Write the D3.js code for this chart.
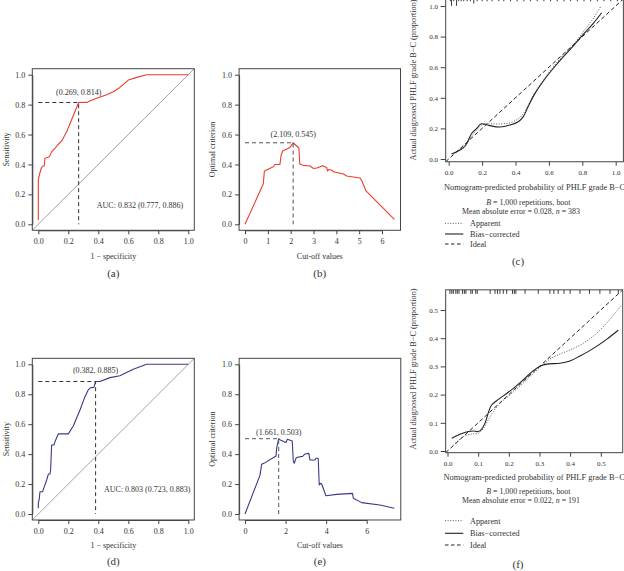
<!DOCTYPE html>
<html><head><meta charset="utf-8">
<script src="https://cdn.jsdelivr.net/npm/d3@7"></script>
<style>
body{margin:0;background:#fff}
svg{display:block}
text{font-family:"Liberation Serif","Times New Roman",serif;fill:#333}
</style>
</head><body>
<svg id="fig" width="624" height="571"></svg>
<script>
// ---------------- DATA ----------------
// (a) ROC, training
const rocA_fpr = [0,0,0.007,0.016,0.022,0.033,0.04,0.044,0.056,0.073,0.082,0.089,0.111,0.129,0.156,0.189,0.269,0.327,0.344,0.389,0.456,0.5,0.544,0.6,0.656,0.722,1];
const rocA_tpr = [0.029,0.296,0.33,0.363,0.38,0.39,0.39,0.441,0.445,0.452,0.468,0.486,0.508,0.53,0.557,0.619,0.814,0.815,0.824,0.842,0.866,0.886,0.915,0.964,0.982,1,1];
const optA = [0.269, 0.814];
const aucA = "AUC: 0.832 (0.777, 0.886)";
// (b) optimal criterion vs cut-off, training
const critB_cut = [0,0.80,0.85,1.24,1.31,1.53,1.58,1.65,1.97,2.109,2.29,2.36,2.40,2.55,2.85,2.99,3.15,3.40,3.58,3.61,3.66,3.77,3.91,4.31,4.45,5.04,5.14,5.21,5.30,6.54];
const critB_val = [0,0.27,0.357,0.385,0.40,0.40,0.46,0.49,0.514,0.545,0.52,0.51,0.403,0.394,0.39,0.374,0.376,0.392,0.38,0.356,0.366,0.363,0.35,0.336,0.323,0.31,0.283,0.256,0.223,0.033];
const optB = [2.109, 0.545];
// (d) ROC, validation
const rocD_fpr = [0,0,0.007,0.011,0.029,0.04,0.056,0.067,0.078,0.082,0.089,0.104,0.111,0.133,0.2,0.233,0.278,0.311,0.333,0.349,0.371,0.378,0.382,0.411,0.478,0.544,0.578,0.633,0.722,1];
const rocD_tpr = [0.038,0.071,0.105,0.149,0.149,0.183,0.227,0.267,0.267,0.294,0.461,0.461,0.483,0.535,0.535,0.588,0.695,0.784,0.829,0.844,0.846,0.873,0.885,0.885,0.911,0.924,0.94,0.967,1,1];
const optD = [0.382, 0.885];
const aucD = "AUC: 0.803 (0.723, 0.883)";
// (e) optimal criterion vs cut-off, validation
const critE_cut = [0,0.74,0.82,0.99,1.53,1.56,1.661,1.74,2.02,2.09,2.33,2.38,2.43,2.51,2.58,2.84,2.96,3.15,3.2,3.45,3.5,3.61,3.66,3.73,3.78,3.99,4.52,5.3,5.34,5.75,6.65,7.36];
const critE_val = [0,0.26,0.332,0.343,0.388,0.439,0.503,0.495,0.477,0.499,0.488,0.354,0.339,0.372,0.379,0.385,0.401,0.405,0.361,0.361,0.372,0.372,0.194,0.205,0.2,0.122,0.131,0.138,0.105,0.076,0.06,0.038];
const optE = [1.661, 0.503];
// (c) calibration, training
const calC_app_x = [0.018,0.068,0.098,0.128,0.168,0.198,0.248,0.307,0.367,0.427,0.467,0.507,0.567,0.627,0.687,0.746,0.806,0.866,0.91];
const calC_app_y = [0.033,0.058,0.082,0.135,0.19,0.222,0.229,0.229,0.237,0.272,0.331,0.418,0.516,0.603,0.68,0.745,0.832,0.919,0.996];
const calC_bc_x = [0.018,0.068,0.098,0.118,0.138,0.168,0.192,0.218,0.248,0.307,0.367,0.417,0.447,0.477,0.517,0.567,0.627,0.687,0.746,0.806,0.866,0.916];
const calC_bc_y = [0.033,0.059,0.085,0.124,0.168,0.2,0.229,0.227,0.218,0.209,0.222,0.244,0.277,0.346,0.429,0.51,0.593,0.669,0.739,0.815,0.887,0.956];
const rugC_pos = [0.01,0.017,0.03,0.047,0.06,0.075,0.09,0.11,0.13,0.15,0.17,0.2,0.23,0.26,0.3,0.33,0.37,0.41,0.45,0.49,0.53,0.57,0.61,0.65,0.69,0.73,0.77,0.81,0.85,0.89,0.93,0.97,1.01];
const rugC_cnt = [1,3,1,3,1,1,1,1,1,2,1,1,1,1,1,1,1,1,1,1,1,1,1,1,1,1,1,1,1,1,1,1,1];
const maeC = "0.028", nC = "383";
// (f) calibration, validation
const calF_app_x = [0.019,0.052,0.079,0.1,0.117,0.133,0.149,0.171,0.204,0.236,0.269,0.302,0.334,0.367,0.399,0.443,0.486,0.53,0.568];
const calF_app_y = [0.021,0.051,0.06,0.063,0.08,0.11,0.139,0.169,0.199,0.23,0.264,0.297,0.326,0.344,0.358,0.382,0.417,0.467,0.518];
const calF_bc_x = [0.014,0.041,0.068,0.084,0.1,0.111,0.122,0.136,0.144,0.166,0.193,0.215,0.247,0.28,0.307,0.329,0.367,0.399,0.432,0.476,0.519,0.557];
const calF_bc_y = [0.045,0.059,0.069,0.071,0.069,0.077,0.098,0.145,0.163,0.183,0.204,0.222,0.252,0.285,0.303,0.309,0.311,0.319,0.337,0.364,0.396,0.428];
const rugF_pos = [0.008,0.014,0.019,0.027,0.032,0.0375,0.049,0.055,0.06,0.076,0.081,0.092,0.097,0.139,0.155,0.163,0.171,0.182,0.193,0.212,0.218,0.223,0.253,0.296,0.334,0.347,0.361,0.38,0.4,0.432,0.463,0.497,0.53,0.557];
const maeF = "0.022", nF = "191";
const bootB = "1,000";
// tick labels
const rocTicks = [0,0.2,0.4,0.6,0.8,1.0];
const cutTicksB = [0,1,2,3,4,5,6];
const cutTicksE = [0,2,4,6];
const calTicksC = [0,0.2,0.4,0.6,0.8,1.0];
const calTicksF = [0,0.1,0.2,0.3,0.4,0.5];

// ---------------- DRAWING ----------------
const svg = d3.select('#fig');
const f1 = d3.format('.1f');
const RED = '#ef3a2c', NAVY = '#3a3a88', FRAME = '#444';

function styleAxis(sel, size){
  sel.select('.domain').attr('stroke', FRAME);
  sel.selectAll('.tick line').attr('stroke', FRAME);
  sel.selectAll('.tick text').attr('fill','#333').style('font-size', size+'px')
     .style('font-family','"Liberation Serif","Times New Roman",serif');
}

function simplePanel(c){
  const g = svg.append('g');
  const x = d3.scaleLinear().domain(c.xDom).range(c.xRange);
  const y = d3.scaleLinear().domain([0,1]).range(c.yRange);
  const L = x(c.xFrame[0]), R = x(c.xFrame[1]), T = y(1.04), B = y(-0.04);
  const id = 'clip_' + c.id;
  svg.append('clipPath').attr('id', id).append('rect')
     .attr('x', L).attr('y', T).attr('width', R-L).attr('height', B-T);
  const plot = g.append('g').attr('clip-path', `url(#${id})`);
  if (c.diag) {
    plot.append('line').attr('x1', x(-0.04)).attr('y1', y(-0.04)).attr('x2', x(1.04)).attr('y2', y(1.04))
      .attr('stroke', '#999').attr('stroke-width', 0.9);
  }
  const line = d3.line().x(d => x(d[0])).y(d => y(d[1]));
  plot.append('path').attr('d', line(d3.zip(c.xs, c.ys)))
    .attr('fill','none').attr('stroke', c.color).attr('stroke-width', 1.1).attr('stroke-linejoin','round');
  plot.append('path').attr('d', line([[c.xDom[0], c.opt[1]], c.opt, [c.opt[0], 0]]))
    .attr('fill','none').attr('stroke', c.dashColor).attr('stroke-width', 1).attr('stroke-dasharray','4,3');
  g.append('rect').attr('x', L).attr('y', T).attr('width', R-L).attr('height', B-T)
    .attr('fill','none').attr('stroke', FRAME).attr('stroke-width', 1);
  const ax = g.append('g').attr('transform', `translate(0,${B})`)
    .call(d3.axisBottom(x).tickValues(c.xTicks).tickFormat(c.xFmt).tickSize(4).tickSizeOuter(0).tickPadding(4.5));
  styleAxis(ax, 8);
  const ay = g.append('g').attr('transform', `translate(${L},0)`)
    .call(d3.axisLeft(y).tickValues(rocTicks).tickFormat(f1).tickSize(4).tickSizeOuter(0).tickPadding(3));
  styleAxis(ay, 8);
  g.append('text').attr('x', x(c.opt[0])).attr('y', y(c.opt[1]) - c.labDy)
    .attr('text-anchor','middle').style('font-size','8px')
    .text(`(${d3.format('.3f')(c.opt[0])}, ${d3.format('.3f')(c.opt[1])})`);
  if (c.auc) {
    g.append('text').attr('x', x(c.aucPos[0])).attr('y', y(c.aucPos[1]) + 2.8)
      .style('font-size','8px').text(c.auc);
  }
  const cx = (L + R) / 2;
  g.append('text').attr('x', cx).attr('y', B + 28.5).attr('text-anchor','middle').style('font-size','8px').text(c.xTitle);
  g.append('text').attr('transform', `translate(${c.yTitleX},${(T+B)/2}) rotate(-90)`)
    .attr('text-anchor','middle').attr('dy','0.35em').style('font-size','8px').text(c.yTitle);
  g.append('text').attr('x', cx).attr('y', B + c.tagDy).attr('text-anchor','middle').style('font-size','11px').text(c.tag);
}

simplePanel({id:'a', xDom:[0,1], xRange:[38.3,188.3], yRange:[224.3,74.7], xFrame:[-0.04,1.04],
  xTicks: rocTicks, xFmt: f1, xs: rocA_fpr, ys: rocA_tpr, color: RED, dashColor:'#333', diag:true,
  opt: optA, labDy: 8, auc: aucA, aucPos:[0.39,0.129], xTitle:'1 \u2212 specificity', yTitle:'Sensitivity',
  yTitleX: 6, tag:'(a)', tagDy: 46.5});
simplePanel({id:'b', xDom:[0,6], xRange:[245,382], yRange:[224.3,74.7], xFrame:[-0.26,6.81],
  xTicks: cutTicksB, xFmt: d3.format('d'), xs: critB_cut, ys: critB_val, color: RED, dashColor:'#555', diag:false,
  opt: optB, labDy: 5.5, xTitle:'Cut-off values', yTitle:'Optimal criterion', yTitleX: 212, tag:'(b)', tagDy: 46.5});
simplePanel({id:'d', xDom:[0,1], xRange:[38.3,188.3], yRange:[514,364.3], xFrame:[-0.04,1.04],
  xTicks: rocTicks, xFmt: f1, xs: rocD_fpr, ys: rocD_tpr, color: NAVY, dashColor:'#333', diag:true,
  opt: optD, labDy: 8.5, auc: aucD, aucPos:[0.438,0.165], xTitle:'1 \u2212 specificity', yTitle:'Sensitivity',
  yTitleX: 6, tag:'(d)', tagDy: 45.5});
simplePanel({id:'e', xDom:[0,6], xRange:[245,366.7], yRange:[514,364.3], xFrame:[-0.29,7.68],
  xTicks: cutTicksE, xFmt: d3.format('d'), xs: critE_cut, ys: critE_val, color: NAVY, dashColor:'#555', diag:false,
  opt: optE, labDy: 4, xTitle:'Cut-off values', yTitle:'Optimal criterion', yTitleX: 212, tag:'(e)', tagDy: 45.5});

function calPanel(c){
  const g = svg.append('g');
  const x = d3.scaleLinear().domain([0, c.max]).range(c.xRange);
  const y = d3.scaleLinear().domain([0, c.max]).range(c.yRange);
  const L = x(c.frame[0]), R = x(c.frame[1]), B = y(c.frame[0]), T = y(c.frame[1]);
  const id = 'clip_' + c.id;
  svg.append('clipPath').attr('id', id).append('rect')
     .attr('x', L).attr('y', T).attr('width', R-L).attr('height', B-T);
  const plot = g.append('g').attr('clip-path', `url(#${id})`);
  const line = d3.line().x(d => x(d[0])).y(d => y(d[1])).curve(d3.curveCatmullRom.alpha(0.5));
  plot.append('line').attr('x1', x(c.frame[0])).attr('y1', y(c.frame[0])).attr('x2', x(c.frame[1])).attr('y2', y(c.frame[1]))
    .attr('stroke','#222').attr('stroke-width',1).attr('stroke-dasharray','4,2.6');
  plot.append('path').attr('d', line(d3.zip(c.appX, c.appY))).attr('fill','none')
    .attr('stroke','#444').attr('stroke-width',0.9).attr('stroke-dasharray','1,1.6');
  plot.append('path').attr('d', line(d3.zip(c.bcX, c.bcY))).attr('fill','none')
    .attr('stroke','#222').attr('stroke-width',1.1);
  plot.selectAll('line.rug').data(d3.zip(c.rug, c.rugCnt)).join('line').attr('class','rug')
    .attr('x1', d => x(d[0])).attr('x2', d => x(d[0]))
    .attr('y1', T).attr('y2', d => T + c.rugLen * d[1])
    .attr('stroke','#222').attr('stroke-width',0.9);
  g.append('rect').attr('x', L).attr('y', T).attr('width', R-L).attr('height', B-T)
    .attr('fill','none').attr('stroke', FRAME).attr('stroke-width', 1);
  const ax = g.append('g').attr('transform', `translate(0,${B})`)
    .call(d3.axisBottom(x).tickValues(c.ticks).tickFormat(f1).tickSize(4).tickSizeOuter(0).tickPadding(4.2));
  styleAxis(ax, 7);
  ax.select('.domain').remove();
  const ay = g.append('g').attr('transform', `translate(${L},0)`)
    .call(d3.axisLeft(y).tickValues(c.ticks).tickFormat(f1).tickSize(5).tickSizeOuter(0).tickPadding(2.7));
  styleAxis(ay, 7);
  ay.select('.domain').remove();
  const cx = (L + R) / 2;
  g.append('text').attr('x', cx).attr('y', c.t.xlab + 2.9).attr('text-anchor','middle').style('font-size','8.4px')
    .text('Nomogram-predicted probability of PHLF grade B\u2212C');
  g.append('text').attr('transform', `translate(413,${c.t.ylabC}) rotate(-90)`).attr('dy','0.35em')
    .attr('text-anchor','middle').style('font-size','8.3px')
    .text('Actual diagnosed PHLF grade B\u2212C (proportion)');
  const t1 = g.append('text').attr('x', 528.3).attr('y', c.t.l1 + 2.8).attr('text-anchor','middle').style('font-size','7.9px');
  t1.append('tspan').style('font-style','italic').text('B');
  t1.append('tspan').text(` = ${bootB} repetitions, boot`);
  const t2 = g.append('text').attr('x', 521).attr('y', c.t.l2 + 2.8).attr('text-anchor','middle').style('font-size','7.9px');
  t2.append('tspan').text(`Mean absolute error = ${c.mae}, `);
  t2.append('tspan').style('font-style','italic').text('n');
  t2.append('tspan').text(` = ${c.n}`);
  const leg = [['Apparent','1,1.6','#444',0.9],['Bias\u2212corrected',null,'#222',1.1],['Ideal','3.5,2.5','#222',1]];
  leg.forEach((d,i) => {
    const yy = c.t.leg[i];
    const ln = g.append('line').attr('x1',445).attr('x2',463.3).attr('y1',yy).attr('y2',yy)
      .attr('stroke',d[2]).attr('stroke-width',d[3]);
    if (d[1]) ln.attr('stroke-dasharray', d[1]);
    g.append('text').attr('x',470).attr('y',yy+2.9).style('font-size','8.2px').text(d[0]);
  });
  g.append('text').attr('x', 518).attr('y', c.t.tag).attr('text-anchor','middle').style('font-size','11px').text(c.tag);
}

calPanel({id:'c', max:1, xRange:[448.7,615.7], yRange:[159,6], frame:[-0.018,1.046],
  ticks: calTicksC, appX: calC_app_x, appY: calC_app_y, bcX: calC_bc_x, bcY: calC_bc_y,
  rug: rugC_pos, rugCnt: rugC_cnt, rugLen: 2.3, mae: maeC, n: nC, tag:'(c)',
  t:{xlab:186.7, ylabC:80, l1:201.7, l2:210.7, leg:[223.3,234,244], tag:264.5}});
calPanel({id:'f', max:0.5, xRange:[447.5,600.8], yRange:[451,310], frame:[-0.006,0.5715],
  ticks: calTicksF, appX: calF_app_x, appY: calF_app_y, bcX: calF_bc_x, bcY: calF_bc_y,
  rug: rugF_pos, rugCnt: rugF_pos.map(() => 1), rugLen: 4, mae: maeF, n: nF, tag:'(f)',
  t:{xlab:476.7, ylabC:369, l1:491, l2:499.8, leg:[520.7,533.3,545], tag:567.5}});
</script>
</body></html>
